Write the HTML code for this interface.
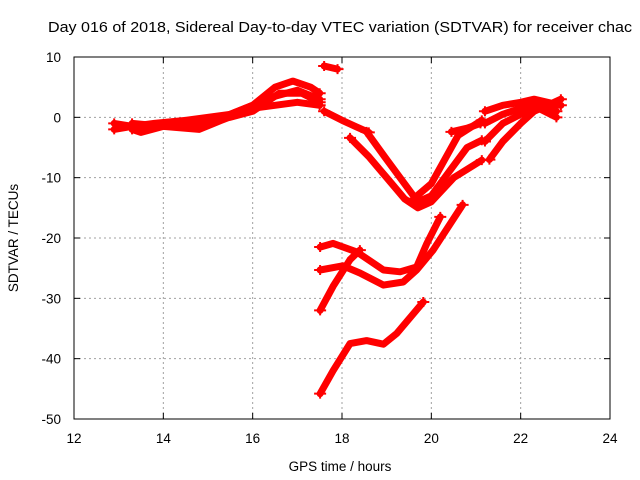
<!DOCTYPE html>
<html><head><meta charset="utf-8"><style>
body{margin:0;background:#fff;}
svg{display:block;font-family:"Liberation Sans",sans-serif;}
</style></head><body>
<svg id="chart" width="640" height="480" xmlns="http://www.w3.org/2000/svg">
<rect width="640" height="480" fill="#fff"/>
<text x="48" y="32" font-size="14.5" textLength="584" lengthAdjust="spacingAndGlyphs">Day 016 of 2018, Sidereal Day-to-day VTEC variation (SDTVAR) for receiver chac</text>
<g id="grid"></g>
<g id="series"></g>
<rect x="74" y="57" width="536" height="362" fill="none" stroke="#000" stroke-width="1"/>
<g id="ticks"></g>
<text x="340" y="471" font-size="13.5" text-anchor="middle">GPS time / hours</text>
<text transform="translate(18,238) rotate(-90)" font-size="13.5" text-anchor="middle">SDTVAR / TECUs</text>
</svg>
<script>
const xTicks=[12,14,16,18,20,22,24];
const yTicks=[10,0,-10,-20,-30,-40,-50];
const traceTimes=[
[12.9,13.3,13.8,14.5,15,15.5,16,16.5,16.9,17.3,17.5],
[13.3,13.5,14,14.5,15,15.5,16,16.5,17,17.5],
[13.3,14,14.8,15.3,16,16.5,17,17.5],
[12.9,13.3,14,14.7,15.5,16,16.6,17.1,17.5],
[17.6,17.9],
[17.6,18,18.3,18.6],
[18.18,18.6,19.0,19.4,19.7,20.0,20.5,21.13],
[18.55,19.0,19.4,19.7,20.0,20.4,20.8,21.13],
[19.6,20.0,20.3,20.6,21.13],
[20.45,20.8,21.1],
[21.2,21.6,22,22.3,22.6,22.9],
[21.2,21.6,22,22.4,22.8],
[21.2,21.6,22,22.4,22.8],
[21.3,21.6,22,22.3,22.6,22.9],
[17.51,17.8,18.33,18.93,19.3,19.67,19.9,20.2],
[17.51,18.02,18.4,18.93,19.37,19.67,20.04,20.7],
[17.51,17.8,18.18,18.4],
[17.51,17.8,18.18,18.55,18.93,19.23,19.82]
];
const traceValues=[
[-1,-1.5,-1,-0.5,0,0.5,2,5,6,5,4],
[-2,-2.5,-1.5,-1.5,-1,0.5,2,3.5,4.5,3],
[-1,-1.5,-2,-0.5,1.5,2,2.5,2],
[-2,-1.5,-1,-0.5,0,1,4,4,2.5],
[8.5,8],
[1,-0.5,-1.5,-2.5],
[-3.4,-6.5,-10,-13.5,-15,-14,-10,-7.1],
[-2.4,-7,-11,-14,-13,-9,-5,-3.8],
[-13.5,-11,-7,-3,-0.5],
[-2.4,-1.8,-1],
[1,2,2.5,3,2.5,2],
[-1,0.5,1.5,2.5,1],
[-4,-1,0.5,1.5,0],
[-7,-4,-1,1,2,3],
[-21.5,-20.9,-22.3,-25.3,-25.6,-24.8,-20.9,-16.5],
[-25.3,-24.6,-25.8,-27.8,-27.3,-25.3,-22,-14.5],
[-32,-28,-23.6,-22],
[-45.8,-42,-37.5,-37,-37.6,-35.8,-30.6]
];
const NS="http://www.w3.org/2000/svg";
const X0=74,X1=610,Y0=57,Y1=419;
function xs(v){return X0+(v-12)/(24-12)*(X1-X0);}
function ys(v){return Y0+(10-v)/(10-(-50))*(Y1-Y0);}
const grid=document.getElementById('grid'),ticks=document.getElementById('ticks'),ser=document.getElementById('series');
function mk(t,a,p){const e=document.createElementNS(NS,t);for(const k in a)e.setAttribute(k,a[k]);p.appendChild(e);return e;}
xTicks.forEach(t=>{
 const x=xs(t);
 if(t>12&&t<24){const g=mk('line',{x1:x,x2:x,y1:Y0,y2:Y1,stroke:'#a0a0a0','stroke-dasharray':'2,3'},grid);
 
 }
 mk('line',{x1:x,x2:x,y1:Y1,y2:Y1-6,stroke:'#000'},ticks);
 mk('line',{x1:x,x2:x,y1:Y0,y2:Y0+6,stroke:'#000'},ticks);
 const l=mk('text',{x:x,y:Y1+24,'font-size':'13.5','text-anchor':'middle'},ticks);l.textContent=t;
 
 
});
yTicks.forEach(t=>{
 const y=ys(t);
 if(t<10&&t>-50){const g=mk('line',{x1:X0,x2:X1,y1:y,y2:y,stroke:'#a0a0a0','stroke-dasharray':'2,3'},grid);
 
 }
 mk('line',{x1:X0,x2:X0+6,y1:y,y2:y,stroke:'#000'},ticks);
 mk('line',{x1:X1,x2:X1-6,y1:y,y2:y,stroke:'#000'},ticks);
 const l=mk('text',{x:X0-13,y:y+5,'font-size':'13.5','text-anchor':'end'},ticks);l.textContent=t;
 
 
});
traceTimes.forEach((tt,i)=>{
 const vv=traceValues[i];
 const pts=tt.map((t,j)=>xs(t).toFixed(1)+','+ys(vv[j]).toFixed(1)).join(' ');
 const p=mk('polyline',{points:pts,fill:'none',stroke:'#f00','stroke-width':'7','stroke-linejoin':'round','stroke-linecap':'round'},ser);
 
 
 [0,tt.length-1].forEach(j=>{
  const x=xs(tt[j]),y=ys(vv[j]);
  const m=mk('path',{d:`M${x-6},${y}h12M${x},${y-5}v10`,stroke:'#f00','stroke-width':'2'},ser);
  
  
 });
});
</script>
</body></html>
